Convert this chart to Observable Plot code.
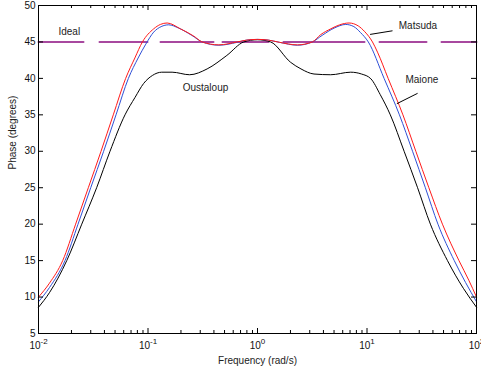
<!DOCTYPE html>
<html><head><meta charset="utf-8">
<script src="https://cdn.jsdelivr.net/npm/d3@7"></script>
<script src="https://cdn.jsdelivr.net/npm/@observablehq/plot@0.6"></script>
<style>body{margin:0;background:#fff;} svg{display:block;}</style>
</head><body><div id="chart"></div>
<script>
// ---- data (frequency given as log10 exponent, phase in degrees) ----
const matsudaLogFreq = [-2, -1.9, -1.779, -1.661, -1.545, -1.429, -1.317, -1.204, -1.12, -1.051, -0.948, -0.887, -0.825, -0.704, -0.582, -0.505, -0.353, -0.185, -0.1, 0, 0.1, 0.2, 0.364, 0.501, 0.577, 0.669, 0.75, 0.836, 0.92, 0.98, 1.05, 1.096, 1.193, 1.328, 1.446, 1.565, 1.689, 1.84, 1.93, 2];
const matsudaPhase   = [10.0, 11.9, 15.0, 20.0, 25.0, 30.0, 35.0, 40.0, 42.8, 45.0, 46.8, 47.4, 47.6, 46.8, 45.8, 45.0, 44.6, 45.0, 45.25, 45.35, 45.25, 44.95, 44.6, 45.0, 46.0, 46.8, 47.35, 47.6, 47.2, 46.4, 45.0, 43.6, 40.0, 35.0, 30.0, 25.0, 20.0, 15.0, 12.3, 10.0];

const maioneLogFreq = [-2, -1.9, -1.758, -1.639, -1.523, -1.405, -1.292, -1.179, -1.09, -1.02, -0.948, -0.88, -0.811, -0.72, -0.6, -0.505, -0.353, -0.185, -0.1, 0, 0.1, 0.2, 0.364, 0.501, 0.59, 0.7, 0.806, 0.88, 0.94, 1.012, 1.156, 1.296, 1.416, 1.533, 1.648, 1.797, 1.9, 2];
const maionePhase   = [9.35, 11.3, 15.0, 20.0, 25.0, 30.0, 35.0, 40.0, 42.8, 44.7, 46.35, 47.1, 47.35, 46.9, 45.9, 45.0, 44.55, 44.95, 45.25, 45.35, 45.25, 44.95, 44.55, 45.0, 45.9, 46.9, 47.4, 47.1, 46.3, 45.0, 40.0, 35.0, 30.0, 25.0, 20.0, 15.0, 12.0, 9.35];

const oustaloupLogFreq = [-2, -1.9, -1.742, -1.605, -1.469, -1.347, -1.21, -1.118, -1.04, -0.96, -0.875, -0.78, -0.62, -0.46, -0.28, -0.125, 0, 0.12, 0.303, 0.397, 0.516, 0.668, 0.851, 0.95, 1.035, 1.12, 1.213, 1.339, 1.462, 1.579, 1.735, 1.88, 2];
const oustaloupPhase   = [8.6, 10.6, 15.0, 20.0, 25.0, 30.0, 35.0, 37.4, 39.3, 40.4, 40.85, 40.85, 40.5, 41.3, 43.15, 45.0, 45.3, 45.0, 42.2, 41.3, 40.6, 40.5, 40.85, 40.6, 39.95, 37.8, 35.0, 30.0, 25.0, 20.0, 15.0, 11.2, 8.6];

const idealLogFreq = [-2, 2];
const idealPhase = [45, 45];

const xMajorTicks = [0.01, 0.1, 1, 10, 100];
const xTickBase = ["10", "10", "10", "10", "10"];
const xTickExp = ["-2", "-1", "0", "1", "2"];
const yTicks = [5, 10, 15, 20, 25, 30, 35, 40, 45, 50];

const annotText = ["Ideal", "Matsuda", "Maione", "Oustaloup"];
const annotLogFreq = [-1.719, 1.465, 1.501, -0.475];
const annotPhase = [46.35, 47.25, 39.75, 38.65];

const leaderLogFreq1 = [1.233, 1.462];
const leaderPhase1 = [46.53, 37.95];
const leaderLogFreq2 = [1.028, 1.273];
const leaderPhase2 = [46.03, 36.53];

const xLabel = "Frequency (rad/s)";
const yLabel = "Phase (degrees)";

// ---- build tables ----
const toRows = (lf, ph) => lf.map((v, i) => ({f: Math.pow(10, v), p: ph[i]}));
const matsuda = toRows(matsudaLogFreq, matsudaPhase);
const maione = toRows(maioneLogFreq, maionePhase);
const oustaloup = toRows(oustaloupLogFreq, oustaloupPhase);
const ideal = toRows(idealLogFreq, idealPhase);
const annots = annotText.map((t, i) => ({t, f: Math.pow(10, annotLogFreq[i]), p: annotPhase[i]}));
const leaders = leaderLogFreq1.map((v, i) => ({
  f1: Math.pow(10, v), p1: leaderPhase1[i],
  f2: Math.pow(10, leaderLogFreq2[i]), p2: leaderPhase2[i]
}));
const xTickRows = xMajorTicks.map((v, i) => ({v, base: xTickBase[i]}));
const xMinorTicks = d3.scaleLog().domain([0.01, 100]).ticks().filter(d => !xMajorTicks.some(m => Math.abs(m - d) / m < 1e-9));

const W = 481, H = 371, ML = 38, MR = 5, MT = 5, MB = 38;
const FW = W - ML - MR, FH = H - MT - MB;

const chart = Plot.plot({
  width: W, height: H,
  marginLeft: ML, marginRight: MR, marginTop: MT, marginBottom: MB,
  style: {fontFamily: "'Liberation Sans', Arial, sans-serif", fontSize: "10px", background: "#fff", color: "#111"},
  x: {type: "log", domain: [0.01, 100], axis: null},
  y: {domain: [5, 50], axis: null},
  marks: [
    // ideal dashed line
    Plot.line(ideal, {x: "f", y: "p", stroke: "#a8489f", strokeWidth: 2, strokeDasharray: "45,16,48,13,53,9,46,15,81,15,47,15,40"}),
    // curves
    Plot.line(oustaloup, {x: "f", y: "p", stroke: "#000", strokeWidth: 1, curve: "monotone-x"}),
    Plot.line(maione, {x: "f", y: "p", stroke: "#2f4fd6", strokeWidth: 1, curve: "monotone-x"}),
    Plot.line(matsuda, {x: "f", y: "p", stroke: "#ff1a1a", strokeWidth: 1, curve: "monotone-x"}),
    // annotations
    Plot.link(leaders, {x1: "f1", y1: "p1", x2: "f2", y2: "p2", stroke: "#000", strokeWidth: 1}),
    Plot.text(annots, {x: "f", y: "p", text: "t", fill: "#222", fontSize: 10, textAnchor: "middle", lineAnchor: "middle"}),
    // frame
    Plot.frame({stroke: "#000", strokeWidth: 1}),
    // inward ticks
    Plot.tickX(xMajorTicks, {x: d => d, insetTop: FH - 5, stroke: "#000"}),
    Plot.tickX(xMajorTicks, {x: d => d, insetBottom: FH - 5, stroke: "#000"}),
    Plot.tickX(xMinorTicks, {x: d => d, insetTop: FH - 3, stroke: "#000"}),
    Plot.tickX(xMinorTicks, {x: d => d, insetBottom: FH - 3, stroke: "#000"}),
    Plot.tickY(yTicks, {y: d => d, insetRight: FW - 5, stroke: "#000"}),
    Plot.tickY(yTicks, {y: d => d, insetLeft: FW - 5, stroke: "#000"}),
    // tick labels
    Plot.text(xTickRows, {x: "v", text: "base", frameAnchor: "bottom", dy: 8, lineAnchor: "top", textAnchor: "middle", fontSize: 10, fill: "#111", ariaDescription: "x-tick-labels"}),
    Plot.text(yTicks, {y: d => d, text: d => String(d), frameAnchor: "left", dx: -3, textAnchor: "end", lineAnchor: "middle", fontSize: 10, fill: "#111"}),
    // axis titles
    Plot.text([xLabel], {frameAnchor: "bottom", dy: 27, text: d => d, fontSize: 10, fill: "#222", lineAnchor: "middle"}),
    Plot.text([yLabel], {frameAnchor: "left", dx: -26, rotate: -90, text: d => d, fontSize: 10, fill: "#222", lineAnchor: "middle"})
  ]
});
document.getElementById("chart").appendChild(chart);

// superscript exponents on x tick labels
d3.select(chart).selectAll('g[aria-description="x-tick-labels"] text').each(function(d, i) {
  d3.select(this).append("tspan").attr("dy", "-5").attr("font-size", "8px").text(xTickExp[i]);
});
</script></body></html>
